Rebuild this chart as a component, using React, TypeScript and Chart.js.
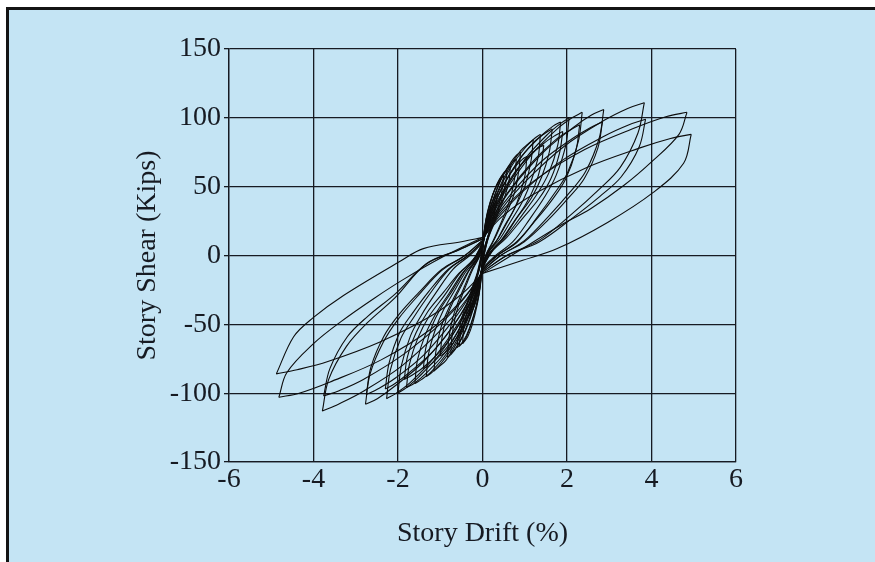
import React, { useEffect, useRef } from "react";
import { Chart, registerables } from "chart.js";

Chart.register(...registerables);

type Pt = [number, number];
type Branch = Pt[];

const xTitle = "Story Drift (%)";
const yTitle = "Story Shear (Kips)";
const xMin = -6;
const xMax = 6;
const xStep = 2;
const yMin = -150;
const yMax = 150;
const yStep = 50;

// Each cycle: [positive loading, positive unloading, negative loading, negative unloading]
const cycle01: Branch[] = [
  [[0, 2], [0.02, 9], [0.05, 14], [0.1, 20], [0.15, 23], [0.2, 25]],
  [[0.2, 25], [0.19, 21], [0.16, 17], [0.12, 13], [0.08, 9], [0.04, 5], [0, -2]],
  [[0, -2], [-0.02, -10], [-0.05, -15], [-0.1, -22], [-0.15, -26], [-0.2, -28]],
  [[-0.2, -28], [-0.19, -24], [-0.16, -18], [-0.12, -14], [-0.08, -10], [-0.04, -5], [0, 2]],
];
const cycle02: Branch[] = [
  [[0, 3], [0.03, 14], [0.075, 22], [0.15, 30], [0.22, 35], [0.3, 38]],
  [[0.3, 38], [0.28, 32], [0.24, 25], [0.18, 19], [0.12, 13], [0.06, 7], [0, -3]],
  [[0, -3], [-0.03, -13], [-0.07, -21], [-0.14, -29], [-0.21, -35], [-0.28, -38]],
  [[-0.28, -38], [-0.27, -32], [-0.22, -25], [-0.17, -19], [-0.11, -13], [-0.06, -7], [0, 3]],
];
const cycle03: Branch[] = [
  [[0, 3], [0.035, 16], [0.09, 25], [0.18, 35], [0.26, 41], [0.35, 45]],
  [[0.35, 45], [0.33, 38], [0.28, 30], [0.21, 22], [0.14, 15], [0.07, 8], [0, -3]],
  [[0, -3], [-0.03, -15], [-0.08, -24], [-0.16, -34], [-0.24, -40], [-0.32, -44]],
  [[-0.32, -44], [-0.3, -37], [-0.26, -29], [-0.19, -22], [-0.13, -15], [-0.06, -8], [0, 3]],
];
const cycle04: Branch[] = [
  [[0, 4], [0.05, 20], [0.12, 32], [0.25, 45], [0.38, 53], [0.5, 58]],
  [[0.5, 58], [0.47, 49], [0.4, 38], [0.3, 29], [0.2, 20], [0.1, 10], [0, -4]],
  [[0, -4], [-0.05, -22], [-0.12, -35], [-0.24, -50], [-0.35, -59], [-0.47, -64]],
  [[-0.47, -64], [-0.45, -54], [-0.38, -42], [-0.28, -32], [-0.19, -22], [-0.09, -12], [0, 4]],
];
const cycle05: Branch[] = [
  [[0, 4], [0.06, 22], [0.15, 34], [0.29, 48], [0.44, 57], [0.58, 62]],
  [[0.58, 62], [0.55, 53], [0.46, 41], [0.35, 31], [0.23, 21], [0.12, 11], [0, -4]],
  [[0, -4], [-0.06, -23], [-0.14, -36], [-0.28, -51], [-0.41, -61], [-0.55, -66]],
  [[-0.55, -66], [-0.52, -56], [-0.44, -44], [-0.33, -33], [-0.22, -22], [-0.11, -12], [0, 4]],
];
const cycle06: Branch[] = [
  [[0, 5], [0.07, 23], [0.16, 36], [0.33, 51], [0.5, 60], [0.66, 65]],
  [[0.66, 65], [0.63, 55], [0.53, 43], [0.4, 33], [0.26, 22], [0.13, 12], [0, -5]],
  [[0, -5], [-0.06, -23], [-0.15, -37], [-0.3, -52], [-0.45, -62], [-0.6, -67]],
  [[-0.6, -67], [-0.57, -57], [-0.48, -44], [-0.36, -34], [-0.24, -23], [-0.12, -12], [0, 5]],
];
const cycle07: Branch[] = [
  [[0, 5], [0.08, 22], [0.2, 36], [0.4, 53], [0.6, 64], [0.72, 68], [0.8, 70]],
  [[0.8, 70], [0.77, 58], [0.68, 44], [0.56, 33], [0.4, 21], [0.24, 10], [0.1, 2], [0, -5]],
  [[0, -5], [-0.08, -22], [-0.19, -36], [-0.38, -53], [-0.56, -64], [-0.68, -69], [-0.75, -71]],
  [[-0.75, -71], [-0.72, -58], [-0.64, -44], [-0.53, -33], [-0.38, -21], [-0.23, -10], [-0.09, -2], [0, 5]],
];
const cycle08: Branch[] = [
  [[0, 6], [0.09, 23], [0.23, 38], [0.45, 56], [0.68, 68], [0.81, 73], [0.9, 75]],
  [[0.9, 75], [0.86, 62], [0.77, 47], [0.63, 35], [0.45, 23], [0.27, 11], [0.11, 2], [0, -6]],
  [[0, -6], [-0.08, -22], [-0.21, -37], [-0.42, -55], [-0.62, -67], [-0.75, -72], [-0.83, -74]],
  [[-0.83, -74], [-0.8, -61], [-0.71, -46], [-0.58, -34], [-0.42, -22], [-0.25, -10], [-0.1, -2], [0, 6]],
];
const cycle09: Branch[] = [
  [[0, 6], [0.11, 22], [0.26, 36], [0.53, 53], [0.79, 65], [0.95, 70], [1.05, 72]],
  [[1.05, 72], [1.01, 59], [0.89, 45], [0.74, 33], [0.53, 22], [0.32, 10], [0.13, 2], [0, -6]],
  [[0, -6], [-0.1, -22], [-0.25, -37], [-0.5, -54], [-0.75, -66], [-0.9, -71], [-1.0, -73]],
  [[-1.0, -73], [-0.96, -60], [-0.85, -45], [-0.7, -34], [-0.5, -22], [-0.3, -10], [-0.12, -2], [0, 6]],
];
const cycle10: Branch[] = [
  [[0, 7], [0.12, 25], [0.3, 42], [0.6, 62], [0.9, 76], [1.08, 81], [1.2, 84]],
  [[1.2, 84], [1.15, 69], [1.02, 52], [0.84, 39], [0.6, 25], [0.36, 12], [0.14, 3], [0, -7]],
  [[0, -7], [-0.12, -25], [-0.29, -42], [-0.58, -62], [-0.86, -76], [-1.04, -81], [-1.15, -84]],
  [[-1.15, -84], [-1.1, -69], [-0.98, -52], [-0.81, -39], [-0.58, -25], [-0.35, -12], [-0.14, -3], [0, 7]],
];
const cycle11: Branch[] = [
  [[0, 8], [0.14, 26], [0.34, 44], [0.69, 65], [1.03, 79], [1.23, 85], [1.37, 88]],
  [[1.37, 88], [1.32, 72], [1.16, 55], [0.96, 40], [0.69, 26], [0.41, 12], [0.16, 3], [0, -8]],
  [[0, -8], [-0.13, -26], [-0.33, -44], [-0.67, -65], [-1.0, -79], [-1.2, -85], [-1.33, -88]],
  [[-1.33, -88], [-1.28, -72], [-1.13, -55], [-0.93, -40], [-0.67, -26], [-0.4, -12], [-0.16, -3], [0, 8]],
];
const cycle12: Branch[] = [
  [[0, 8], [0.15, 24], [0.36, 40], [0.73, 59], [1.09, 72], [1.31, 78], [1.45, 80]],
  [[1.45, 80], [1.39, 66], [1.23, 50], [1.02, 37], [0.73, 24], [0.44, 11], [0.17, 2], [0, -8]],
  [[0, -8], [-0.14, -25], [-0.35, -41], [-0.7, -61], [-1.05, -74], [-1.26, -80], [-1.4, -82]],
  [[-1.4, -82], [-1.34, -67], [-1.19, -51], [-0.98, -38], [-0.7, -25], [-0.42, -11], [-0.17, -2], [0, 8]],
];
const cycle13: Branch[] = [
  [[0, 8], [0.17, 27], [0.41, 46], [0.83, 68], [1.24, 83], [1.49, 89], [1.65, 92]],
  [[1.65, 92], [1.58, 75], [1.4, 57], [1.16, 42], [0.83, 28], [0.5, 13], [0.2, 3], [0, -8]],
  [[0, -8], [-0.16, -28], [-0.4, -47], [-0.8, -69], [-1.2, -84], [-1.44, -90], [-1.6, -93]],
  [[-1.6, -93], [-1.54, -76], [-1.36, -58], [-1.12, -43], [-0.8, -28], [-0.48, -13], [-0.19, -3], [0, 8]],
];
const cycle14: Branch[] = [
  [[0, 9], [0.19, 29], [0.46, 49], [0.93, 72], [1.39, 87], [1.67, 94], [1.85, 97]],
  [[1.85, 97], [1.78, 80], [1.57, 60], [1.3, 45], [0.93, 29], [0.56, 14], [0.22, 3], [0, -9]],
  [[0, -9], [-0.18, -29], [-0.45, -48], [-0.9, -71], [-1.35, -86], [-1.62, -93], [-1.8, -96]],
  [[-1.8, -96], [-1.73, -79], [-1.53, -60], [-1.26, -44], [-0.9, -29], [-0.54, -13], [-0.22, -3], [0, 9]],
];
const cycle15: Branch[] = [
  [[0, 9], [0.19, 27], [0.48, 45], [0.95, 67], [1.43, 81], [1.71, 87], [1.9, 90]],
  [[1.9, 90], [1.82, 74], [1.62, 56], [1.33, 41], [0.95, 27], [0.57, 13], [0.23, 3], [0, -9]],
  [[0, -9], [-0.19, -27], [-0.46, -45], [-0.93, -67], [-1.39, -81], [-1.67, -87], [-1.85, -90]],
  [[-1.85, -90], [-1.78, -74], [-1.57, -56], [-1.3, -41], [-0.93, -27], [-0.56, -13], [-0.22, -3], [0, 9]],
];
const cycle16: Branch[] = [
  [[0, 9], [0.21, 28], [0.51, 47], [1.03, 71], [1.54, 88], [1.85, 96], [2.05, 100]],
  [[2.05, 100], [1.97, 80], [1.74, 58], [1.48, 43], [1.13, 27], [0.72, 10], [0.31, 0], [0, -9]],
  [[0, -9], [-0.2, -28], [-0.5, -47], [-1.0, -71], [-1.5, -88], [-1.8, -96], [-2.0, -100]],
  [[-2.0, -100], [-1.92, -80], [-1.7, -58], [-1.44, -43], [-1.1, -27], [-0.7, -10], [-0.3, 0], [0, 9]],
];
const cycle17: Branch[] = [
  [[0, 10], [0.24, 29], [0.59, 49], [1.18, 74], [1.77, 92], [2.12, 100], [2.36, 104]],
  [[2.36, 104], [2.27, 83], [2.01, 60], [1.7, 45], [1.3, 28], [0.83, 10], [0.35, 0], [0, -10]],
  [[0, -10], [-0.23, -29], [-0.57, -49], [-1.14, -74], [-1.7, -92], [-2.04, -100], [-2.27, -104]],
  [[-2.27, -104], [-2.18, -83], [-1.93, -60], [-1.63, -45], [-1.25, -28], [-0.79, -10], [-0.34, 0], [0, 10]],
];
const cycle18: Branch[] = [
  [[0, 10], [0.23, 27], [0.58, 45], [1.15, 67], [1.73, 84], [2.07, 91], [2.3, 95]],
  [[2.3, 95], [2.21, 76], [1.96, 55], [1.66, 41], [1.27, 26], [0.81, 10], [0.35, 0], [0, -10]],
  [[0, -10], [-0.23, -27], [-0.58, -46], [-1.15, -69], [-1.73, -85], [-2.07, -93], [-2.3, -97]],
  [[-2.3, -97], [-2.21, -78], [-1.96, -56], [-1.66, -42], [-1.27, -26], [-0.81, -10], [-0.35, 0], [0, 10]],
];
const cycle19: Branch[] = [
  [[0, 11], [0.29, 30], [0.72, 50], [1.44, 75], [2.15, 93], [2.58, 102], [2.87, 106]],
  [[2.87, 106], [2.76, 85], [2.44, 61], [2.07, 46], [1.58, 29], [1.0, 11], [0.43, 0], [0, -11]],
  [[0, -11], [-0.28, -30], [-0.69, -51], [-1.39, -77], [-2.08, -95], [-2.49, -104], [-2.77, -108]],
  [[-2.77, -108], [-2.66, -86], [-2.35, -63], [-1.99, -46], [-1.52, -29], [-0.97, -11], [-0.42, 0], [0, 11]],
];
const cycle20: Branch[] = [
  [[0, 11], [0.28, 28], [0.71, 46], [1.42, 69], [2.13, 85], [2.56, 93], [2.84, 97]],
  [[2.84, 97], [2.73, 78], [2.41, 56], [2.04, 42], [1.56, 26], [0.99, 10], [0.43, 0], [0, -11]],
  [[0, -11], [-0.28, -28], [-0.69, -47], [-1.38, -72], [-2.06, -89], [-2.48, -97], [-2.75, -101]],
  [[-2.75, -101], [-2.64, -81], [-2.34, -59], [-1.98, -43], [-1.51, -27], [-0.96, -10], [-0.41, 0], [0, 11]],
];
const cycle21: Branch[] = [
  [[0, 12], [0.38, 31], [0.96, 52], [1.92, 79], [2.87, 98], [3.45, 107], [3.83, 111]],
  [[3.83, 111], [3.68, 89], [3.26, 64], [2.76, 48], [2.11, 30], [1.34, 11], [0.57, 0], [0, -12]],
  [[0, -12], [-0.38, -32], [-0.95, -53], [-1.9, -80], [-2.84, -99], [-3.41, -108], [-3.79, -113]],
  [[-3.79, -113], [-3.64, -90], [-3.22, -66], [-2.73, -49], [-2.08, -31], [-1.33, -6], [-0.57, 4], [0, 12]],
];
const cycle22: Branch[] = [
  [[0, 12], [0.39, 28], [0.97, 47], [1.93, 70], [2.9, 87], [3.47, 95], [3.86, 99]],
  [[3.86, 99], [3.71, 79], [3.28, 57], [2.78, 43], [2.12, 27], [1.35, 10], [0.58, 0], [0, -12]],
  [[0, -12], [-0.38, -29], [-0.94, -48], [-1.88, -72], [-2.82, -90], [-3.38, -98], [-3.76, -102]],
  [[-3.76, -102], [-3.61, -82], [-3.2, -59], [-2.71, -44], [-2.07, -28], [-1.32, -6], [-0.56, 4], [0, 12]],
];
const cycle23: Branch[] = [
  [[0, 13], [0.48, 33], [1.21, 54], [2.42, 77], [3.63, 93], [4.36, 101], [4.84, 104]],
  [[4.84, 104], [4.65, 88], [4.0, 68], [3.35, 51], [2.56, 34], [1.85, 22], [1.0, 6], [0, -13]],
  [[0, -13], [-0.48, -32], [-1.2, -53], [-2.41, -76], [-3.62, -92], [-4.34, -100], [-4.82, -103]],
  [[-4.82, -103], [-4.63, -85], [-4.0, -64], [-3.35, -48], [-2.56, -31], [-1.85, -17], [-1.0, -2], [0, 13]],
];
const cycle24: Branch[] = [
  [[0, 13], [0.49, 29], [1.24, 45], [2.47, 64], [3.71, 78], [4.45, 85], [4.94, 88]],
  [[4.94, 88], [4.76, 67], [4.05, 46], [2.96, 24], [1.77, 5], [0.9, -4], [0, -13]],
  [[0, -13], [-0.49, -28], [-1.22, -44], [-2.44, -63], [-3.66, -77], [-4.39, -83], [-4.88, -86]],
  [[-4.88, -86], [-4.47, -59], [-4.0, -45], [-3.29, -29], [-1.94, -4], [-1.4, 5], [-0.5, 10], [0, 13]],
];

const cycles: Branch[][] = [
  cycle01, cycle02, cycle03, cycle04, cycle05, cycle06, cycle07, cycle08,
  cycle09, cycle10, cycle11, cycle12, cycle13, cycle14, cycle15, cycle16,
  cycle17, cycle18, cycle19, cycle20, cycle21, cycle22, cycle23, cycle24,
];

const FONT = "'Liberation Serif', 'Times New Roman', serif";
const INK = "#161a22";

export default function App() {
  const ref = useRef<HTMLCanvasElement>(null);

  useEffect(() => {
    const datasets = cycles.flatMap((c) =>
      c.map((b) => ({
        data: b.map(([x, y]) => ({ x, y })),
        borderColor: "#0d0d0d",
        borderWidth: 1.1,
        pointRadius: 0,
        pointHoverRadius: 0,
        showLine: true,
        tension: 0.35,
        fill: false,
      }))
    );
    const chart = new Chart(ref.current!, {
      type: "scatter",
      data: { datasets },
      options: {
        responsive: false,
        animation: false,
        devicePixelRatio: 1,
        events: [],
        layout: { padding: { left: 122, top: 39, right: 139, bottom: 12 } },
        plugins: { legend: { display: false }, tooltip: { enabled: false } },
        scales: {
          x: {
            type: "linear",
            min: xMin,
            max: xMax,
            afterFit: (s: any) => {
              s.height = 88;
            },
            ticks: {
              stepSize: xStep,
              color: INK,
              padding: 1,
              font: { family: FONT, size: 28 },
            },
            grid: { color: INK, lineWidth: 1.3, drawTicks: false },
            border: { color: INK, width: 1.3 },
            title: {
              display: true,
              text: xTitle,
              color: INK,
              padding: 0,
              font: { family: FONT, size: 28 },
            },
          },
          y: {
            type: "linear",
            min: yMin,
            max: yMax,
            afterFit: (s: any) => {
              s.width = 98;
            },
            ticks: {
              stepSize: yStep,
              color: INK,
              padding: 3,
              font: { family: FONT, size: 28 },
            },
            grid: { color: INK, lineWidth: 1.3, drawTicks: true, tickLength: 5 },
            border: { color: INK, width: 1.3 },
            title: {
              display: true,
              text: yTitle,
              color: INK,
              padding: 0,
              font: { family: FONT, size: 28 },
            },
          },
        },
      },
    });
    return () => chart.destroy();
  }, []);

  return (
    <div
      style={{
        position: "fixed",
        left: 0,
        top: 0,
        width: 875,
        height: 562,
        background: "#ffffff",
        overflow: "hidden",
      }}
    >
      <div
        style={{
          position: "absolute",
          left: 6,
          top: 7,
          width: 866,
          height: 552,
          borderLeft: "3px solid #141414",
          borderTop: "3px solid #141414",
          background: "#c4e4f4",
        }}
      >
        <canvas ref={ref} width={866} height={552} style={{ display: "block", width: 866, height: 552 }} />
      </div>
    </div>
  );
}
